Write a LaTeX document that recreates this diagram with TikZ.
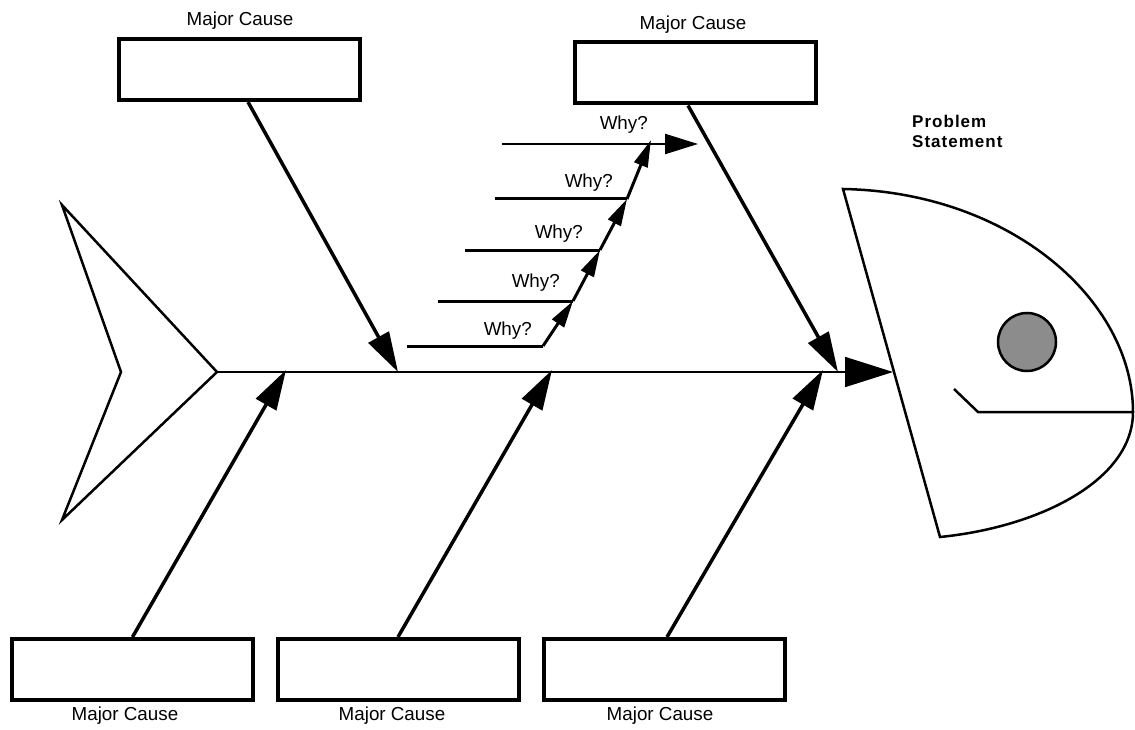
\documentclass[tikz,border=0pt]{standalone}
\usepackage{fontspec}
\setmainfont{Liberation Sans}
\usetikzlibrary{arrows.meta}
\definecolor{eyegray}{gray}{0.55}
\begin{document}
\begin{tikzpicture}[x=1pt,y=-1pt,
  causebox/.style={draw, line width=4pt, minimum width=241pt, minimum height=61pt, inner sep=0pt},
  causelabel/.style={font=\fontsize{18.8}{20}\selectfont, inner sep=0pt, anchor=base},
  whylabel/.style={font=\fontsize{18.8}{20}\selectfont, inner sep=0pt, anchor=base east},
  bone/.style={line width=3.5pt, -{Triangle[length=40pt,width=23pt]}},
  whybone/.style={line width=3pt, -{Triangle[length=27pt,width=14pt]}},
  whyline/.style={line width=3pt},
  outline/.style={line width=2.5pt, line join=miter}]
\useasboundingbox (0,0) rectangle (1135,730);

% cause boxes
\node[causebox] (tl) at (239.5,69.5) {};
\node[causebox] (tr) at (695,73) {};
\node[causebox] (bl) at (132.5,669.5) {};
\node[causebox] (bm) at (398,669.5) {};
\node[causebox] (br) at (664,669.5) {};

% box captions
\node[causelabel] (tll) at (240,26) {Major Cause};
\node[causelabel] (trl) at (693,30) {Major Cause};
\node[causelabel] (bll) at (125,720) {Major Cause};
\node[causelabel] (bml) at (392,720) {Major Cause};
\node[causelabel] (brl) at (660,720) {Major Cause};

% tail
\coordinate (tailtop) at (62,205);
\coordinate (tailtip) at (217,372);
\coordinate (tailbot) at (62,520);
\coordinate (tailnotch) at (121,372);
\draw[outline] (tailtop) -- (tailtip) -- (tailbot) -- (tailnotch) -- cycle;

% head
\coordinate (headtop) at (843,189);
\coordinate (headnose) at (1133,412);
\coordinate (headbot) at (940,537);
\coordinate (headmid) at (893,372);
\draw[outline] (headtop) .. controls (1010,192) and (1133,300) .. (headnose)
  .. controls (1133,480) and (1040,527) .. (headbot) -- cycle;
\node[circle, draw, line width=2.5pt, fill=eyegray, minimum size=58pt, inner sep=0pt] (eye) at (1027,342) {};
\coordinate (mouthtip) at (954,389);
\coordinate (mouthcorner) at (978,412);
\draw[outline] (mouthtip) -- (mouthcorner) -- (headnose);
\node[font=\bfseries\fontsize{17}{20}\selectfont\addfontfeature{LetterSpace=6}, align=left, anchor=north west, inner sep=0pt] (problem) at (912,115) {Problem\\Statement};

% spine
\draw[line width=1.8pt, -{Triangle[length=48pt,width=30pt]}] (tailtip) -- (headmid);

% major bones
\coordinate (s1) at (398,372);
\coordinate (s2) at (838,372);
\coordinate (s3) at (286,370);
\coordinate (s4) at (552,370);
\coordinate (s5) at (823,370);
\draw[bone] ([xshift=8.5pt]tl.south) -- (s1);
\draw[bone] ([xshift=-7pt]tr.south) -- (s2);
\draw[bone] (bl.north) -- (s3);
\draw[bone] (bm.north) -- (s4);
\draw[bone] ([xshift=3pt]br.north) -- (s5);

% five whys
\coordinate (w5) at (543,346);
\coordinate (w4) at (573,301);
\coordinate (w3) at (600,250);
\coordinate (w2) at (627,199);
\coordinate (w1) at (651,140);
\coordinate (h5) at (407,346);
\coordinate (h4) at (438,301);
\coordinate (h3) at (465,250);
\coordinate (h2) at (495,199);
\coordinate (h1) at (502,144);
\coordinate (wt) at (698,144);
\draw[whyline] (h5) -- (w5);
\draw[whyline] (h4) -- (w4);
\draw[whyline] (h3) -- (w3);
\draw[whyline] (h2) -- (w2);
\draw[line width=2.2pt, -{Triangle[length=33pt,width=20pt]}] (h1) -- (wt);
\draw[whybone] (w5) -- (w4);
\draw[whybone] (w4) -- (w3);
\draw[whybone] (w3) -- (w2);
\draw[whybone] (w2) -- (w1);
\node[whylabel] (y1) at (648,130) {Why?};
\node[whylabel] (y2) at (613,188) {Why?};
\node[whylabel] (y3) at (583,238) {Why?};
\node[whylabel] (y4) at (560,287) {Why?};
\node[whylabel] (y5) at (532,335) {Why?};
\end{tikzpicture}
\end{document}
